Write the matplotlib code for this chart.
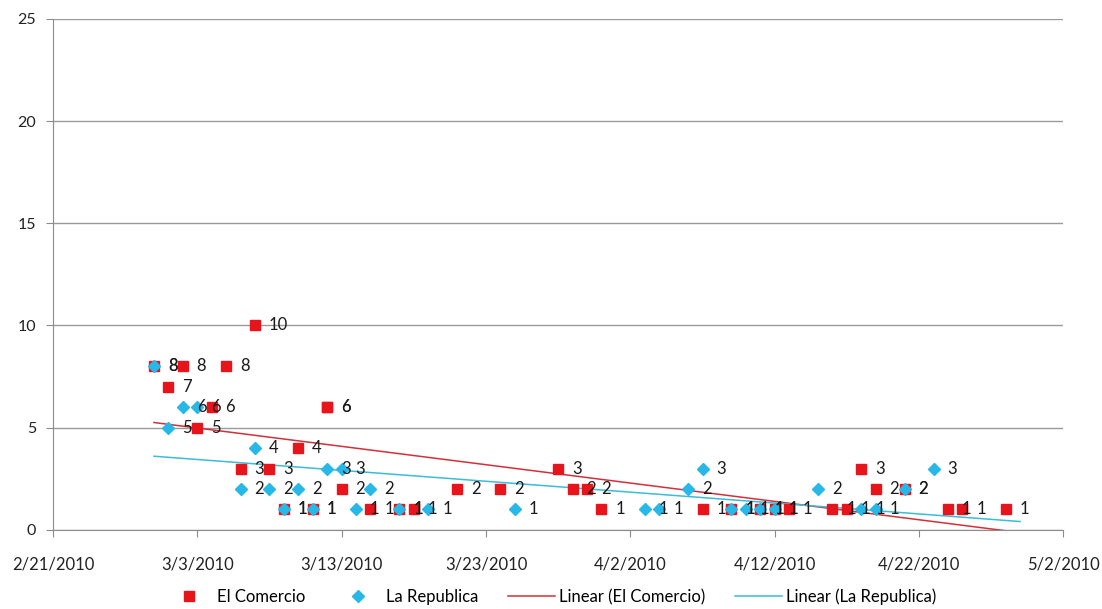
import datetime as dt
import numpy as np
import matplotlib
matplotlib.use('Agg')
from matplotlib import pyplot as plt
import matplotlib.dates as mdates
from matplotlib.ticker import FuncFormatter

# El Comercio: articles per day (3/12 appears twice)
comercio_dates = ['2010-02-28', '2010-03-01', '2010-03-02', '2010-03-03', '2010-03-04',
                  '2010-03-05', '2010-03-06', '2010-03-07', '2010-03-08', '2010-03-09',
                  '2010-03-10', '2010-03-11', '2010-03-12', '2010-03-12', '2010-03-13',
                  '2010-03-15', '2010-03-17', '2010-03-18', '2010-03-21', '2010-03-24',
                  '2010-03-28', '2010-03-29', '2010-03-30', '2010-03-31', '2010-04-07',
                  '2010-04-09', '2010-04-11', '2010-04-12', '2010-04-13', '2010-04-16',
                  '2010-04-17', '2010-04-18', '2010-04-19', '2010-04-21', '2010-04-24',
                  '2010-04-25', '2010-04-28']
comercio_values = [8, 7, 8, 5, 6,
                   8, 3, 10, 3, 1,
                   4, 1, 6, 6, 2,
                   1, 1, 1, 2, 2,
                   3, 2, 2, 1, 1,
                   1, 1, 1, 1, 1,
                   1, 3, 2, 2, 1,
                   1, 1]

# La Republica: articles per day
republica_dates = ['2010-02-28', '2010-03-01', '2010-03-02', '2010-03-03', '2010-03-06',
                   '2010-03-07', '2010-03-08', '2010-03-09', '2010-03-10', '2010-03-11',
                   '2010-03-12', '2010-03-13', '2010-03-14', '2010-03-15', '2010-03-17',
                   '2010-03-19', '2010-03-25', '2010-04-03', '2010-04-04', '2010-04-06',
                   '2010-04-07', '2010-04-09', '2010-04-10', '2010-04-11', '2010-04-12',
                   '2010-04-15', '2010-04-18', '2010-04-19', '2010-04-21', '2010-04-23']
republica_values = [8, 5, 6, 6, 2,
                    4, 2, 1, 2, 1,
                    3, 3, 1, 2, 1,
                    1, 1, 1, 1, 2,
                    3, 1, 1, 1, 1,
                    2, 1, 1, 2, 3]

x_start = '2010-02-21'
x_end = '2010-05-02'
trend_end = '2010-04-29'

RED = '#e8141c'
BLUE = '#27b8e8'
RED_LINE = '#d2303a'
BLUE_LINE = '#3cbcd6'

plt.rcParams['font.family'] = ['Lato', 'DejaVu Sans']


def to_num(dates):
	return mdates.date2num([dt.datetime.strptime(d, '%Y-%m-%d') for d in dates])


def trend(x, y, x0, x1):
	k, b = np.polyfit(x, y, 1)
	xs = np.array([x0, x1])
	return xs, k * xs + b


def date_label(v, pos):
	d = mdates.num2date(v)
	return '%d/%d/%d' % (d.month, d.day, d.year)


def main():
	xc = to_num(comercio_dates)
	xr = to_num(republica_dates)
	x0, x1 = to_num([x_start, x_end])
	t_end = to_num([trend_end])[0]
	t_start = min(xc.min(), xr.min())

	fig = plt.figure(figsize=(11.02, 6.09), dpi=100)
	ax = fig.add_axes([0.048, 0.13, 0.917, 0.839])

	ax.plot(xc, comercio_values, 's', color=RED, markersize=7, label='El Comercio', zorder=3)
	ax.plot(xr, republica_values, 'D', color=BLUE, markersize=5.8, label='La Republica', zorder=4)

	tx, ty = trend(xc, comercio_values, t_start, t_end)
	ax.plot(tx, ty, '-', color=RED_LINE, linewidth=1.1, label='Linear (El Comercio)', zorder=2)
	tx, ty = trend(xr, republica_values, t_start, t_end)
	ax.plot(tx, ty, '-', color=BLUE_LINE, linewidth=1.1, label='Linear (La Republica)', zorder=2)

	for x, y in zip(xc, comercio_values):
		ax.annotate(str(y), (x, y), xytext=(10, 0), textcoords='offset points',
			ha='left', va='center', fontsize=12, color='#1a1a1a', zorder=5)
	for x, y in zip(xr, republica_values):
		ax.annotate(str(y), (x, y), xytext=(10, 0), textcoords='offset points',
			ha='left', va='center', fontsize=12, color='#1a1a1a', zorder=5)

	ax.set_xlim(x0, x1)
	ax.set_ylim(0, 25)
	ax.set_xticks(np.arange(x0, x1 + 1, 10))
	ax.xaxis.set_major_formatter(FuncFormatter(date_label))
	ax.set_yticks(np.arange(0, 26, 5))

	ax.grid(axis='y', color='#9a9a9a', linewidth=1)
	ax.set_axisbelow(True)
	for s in ['top', 'right']:
		ax.spines[s].set_visible(False)
	for s in ['left', 'bottom']:
		ax.spines[s].set_color('#8c8c8c')
	ax.tick_params(axis='x', direction='out', length=5, color='#8c8c8c', pad=14,
		labelsize=12, labelcolor='#222222')
	ax.tick_params(axis='y', direction='out', length=5, color='#8c8c8c', pad=7,
		labelsize=11.5, labelcolor='#222222')

	fig.legend(loc='lower center', bbox_to_anchor=(0.50, -0.018), ncol=4, frameon=False,
		fontsize=12, handlelength=2.8, columnspacing=1.8, handletextpad=0.25)

	fig.savefig('out.png', dpi=100)


if __name__ == '__main__':
	main()
